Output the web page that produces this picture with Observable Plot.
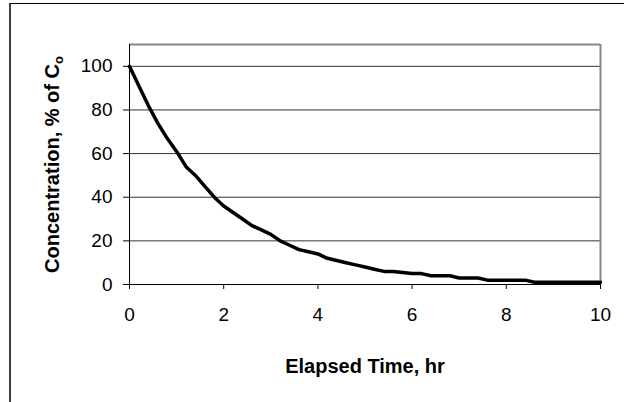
<!DOCTYPE html>
<html>
<head>
<meta charset="utf-8">
<script src="https://cdn.jsdelivr.net/npm/d3@7"></script>
<script src="https://cdn.jsdelivr.net/npm/@observablehq/plot@0.6"></script>
<style>
  html, body { margin: 0; padding: 0; background: #fff; }
  #wrap { position: relative; width: 624px; height: 402px; overflow: hidden; }
  #border { position: absolute; left: 9px; top: 3px; width: 700px; height: 500px;
            border-top: 1.5px solid #000; border-left: 2px solid #404040; pointer-events: none; }
</style>
</head>
<body>
<div id="wrap"><div id="border"></div></div>
<script>
// Elapsed time (hr)
const times = [0, 0.2, 0.4, 0.6, 0.8, 1.0, 1.2, 1.4, 1.6, 1.8,
  2.0, 2.2, 2.4, 2.6, 2.8, 3.0, 3.2, 3.4, 3.6, 3.8,
  4.0, 4.2, 4.4, 4.6, 4.8, 5.0, 5.2, 5.4, 5.6, 5.8,
  6.0, 6.2, 6.4, 6.6, 6.8, 7.0, 7.2, 7.4, 7.6, 7.8,
  8.0, 8.2, 8.4, 8.6, 8.8, 9.0, 9.2, 9.4, 9.6, 9.8, 10.0];
// Concentration, % of Co
const concentration = [100, 91, 82, 74, 67, 61, 54, 50, 45, 40,
  36, 33, 30, 27, 25, 23, 20, 18, 16, 15,
  14, 12, 11, 10, 9, 8, 7, 6, 6, 5.5,
  5, 5, 4, 4, 4, 3, 3, 3, 2, 2,
  2, 2, 2, 1, 1, 1, 1, 1, 1, 1, 1];
const xTicks = [0, 2, 4, 6, 8, 10];
const yTicks = [0, 20, 40, 60, 80, 100];
const gridValues = [20, 40, 60, 80, 100];
const xTitle = "Elapsed Time, hr";
const yTitle = "Concentration, % of C";
const ySub = "o";

const data = times.map((t, i) => ({t, c: concentration[i]}));
const font = "Arial, 'Liberation Sans', sans-serif";

const chart = Plot.plot({
  width: 624,
  height: 402,
  marginLeft: 129,
  marginRight: 24,
  marginTop: 44,
  marginBottom: 118,
  style: {fontFamily: font, fontSize: "19px", color: "#000", background: "transparent"},
  x: {domain: [0, 10]},
  y: {domain: [0, 110]},
  marks: [
    Plot.ruleY(gridValues, {stroke: "#333", strokeWidth: 1}),
    Plot.ruleY([110], {stroke: "#888", strokeWidth: 2}),
    Plot.ruleX([10], {stroke: "#888", strokeWidth: 2}),
    Plot.axisX({ticks: xTicks, tickSize: 5, tickPadding: 18, label: null, stroke: "#000", fontSize: 19}),
    Plot.axisY({ticks: yTicks, tickSize: 6, tickPadding: 11, label: null, stroke: "#000", fontSize: 19}),
    Plot.ruleX([0], {stroke: "#000", strokeWidth: 1}),
    Plot.ruleY([0], {stroke: "#000", strokeWidth: 1}),
    Plot.line(data, {x: "t", y: "c", stroke: "#000", strokeWidth: 3.5, strokeLinejoin: "round"}),
    Plot.text([xTitle], {text: d => d, frameAnchor: "bottom", lineAnchor: "top", dy: 74,
      fontSize: 20, fontWeight: "bold", fill: "#000"}),
    Plot.text([yTitle], {text: d => d, frameAnchor: "left", lineAnchor: "bottom", rotate: -90,
      dx: -71, fontSize: 20, fontWeight: "bold", fill: "#000", textAnchor: "middle"})
  ]
});
document.getElementById("wrap").insertBefore(chart, document.getElementById("border"));

// add subscript to the y title
d3.select(chart).selectAll("text").each(function() {
  const el = d3.select(this);
  if (el.text() === yTitle) {
    el.append("tspan").attr("dy", "0.35em").attr("font-size", 13).text(ySub);
  }
});
</script>
</body>
</html>
